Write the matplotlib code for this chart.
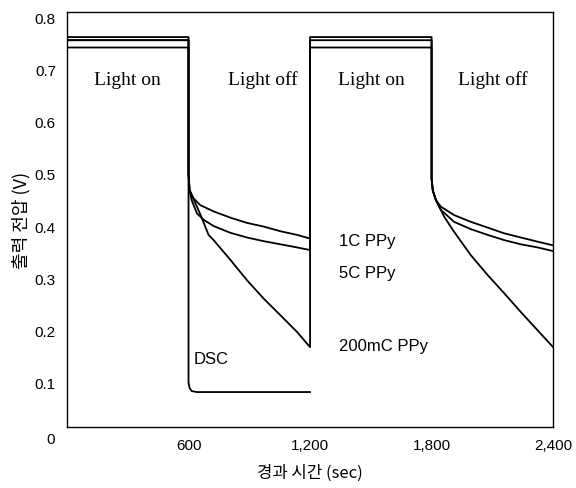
import numpy as np
import matplotlib.pyplot as plt

# Datos (tiempo en s, tensión en V)
t_1c = [0, 600, 600, 605, 625, 658, 724, 807, 889, 971, 1054, 1136, 1200,
        1200, 1800, 1800, 1806, 1821, 1846, 1911, 1994, 2077, 2159, 2241, 2324, 2400]
v_1c = [0.762, 0.762, 0.50, 0.469, 0.453, 0.440, 0.428, 0.416, 0.406, 0.399, 0.390, 0.383, 0.376,
        0.762, 0.762, 0.49, 0.468, 0.450, 0.437, 0.421, 0.408, 0.397, 0.386, 0.378, 0.370, 0.363]

t_5c = [0, 600, 600, 605, 615, 642, 675, 724, 807, 889, 971, 1054, 1136, 1200,
        1200, 1800, 1800, 1806, 1821, 1846, 1911, 1994, 2077, 2159, 2241, 2324, 2400]
v_5c = [0.756, 0.756, 0.50, 0.469, 0.450, 0.424, 0.412, 0.400, 0.387, 0.378, 0.371, 0.365, 0.359, 0.354,
        0.756, 0.756, 0.49, 0.468, 0.450, 0.431, 0.408, 0.394, 0.383, 0.373, 0.365, 0.359, 0.352]

t_200 = [0, 600, 600, 605, 620, 642, 666, 699, 724, 807, 889, 971, 1054, 1136, 1200,
         1200, 1800, 1800, 1806, 1821, 1862, 1911, 1994, 2077, 2159, 2241, 2324, 2400]
v_200 = [0.742, 0.742, 0.50, 0.469, 0.455, 0.437, 0.415, 0.383, 0.373, 0.335, 0.296, 0.261, 0.229, 0.197, 0.168,
         0.742, 0.742, 0.49, 0.468, 0.450, 0.418, 0.389, 0.344, 0.306, 0.271, 0.235, 0.200, 0.168]

t_dsc = [0, 600, 600, 605, 615, 640, 1200]
v_dsc = [0.756, 0.756, 0.10, 0.090, 0.084, 0.082, 0.082]

xticks = [600, 1200, 1800, 2400]
xlabels = ["600", "1,200", "1,800", "2,400"]
yticks = [0.1, 0.2, 0.3, 0.4, 0.5, 0.6, 0.7, 0.8]

sans = ['Liberation Sans Narrow', 'Liberation Sans', 'DejaVu Sans']
kr = ['Noto Sans CJK KR', 'DejaVu Sans']

fig = plt.figure(figsize=(5.76, 4.89), dpi=100)
ax = fig.add_axes([0.1163, 0.1247, 0.844, 0.8487])

for t, v in [(t_1c, v_1c), (t_5c, v_5c), (t_200, v_200), (t_dsc, v_dsc)]:
    ax.plot(t, v, color='black', lw=1.3)

ax.set_xlim(0, 2400)
ax.set_ylim(0.015, 0.81)
ax.set_xticks(xticks)
ax.set_xticklabels(xlabels, family=sans, fontsize=11)
ax.set_yticks(yticks)
ax.set_yticklabels([f"{y:.1f}" for y in yticks], family=sans, fontsize=11)
ax.tick_params(length=0, pad=8)
for s in ax.spines.values():
    s.set_linewidth(1.0)

# "0" en la esquina
ax.text(-0.025, -0.03, "0", transform=ax.transAxes, ha='right', va='center',
        family=sans, fontsize=11)

# Textos de periodos
for x, txt in [(297, "Light on"), (965, "Light off"), (1504, "Light on"), (2103, "Light off")]:
    ax.text(x, 0.681, txt, ha='center', va='center', family='Liberation Serif', fontsize=14)

# Etiquetas de series
ax.text(1341, 0.373, "1C PPy", family=sans, fontsize=12, va='center')
ax.text(1341, 0.311, "5C PPy", family=sans, fontsize=12, va='center')
ax.text(1341, 0.171, "200mC PPy", family=sans, fontsize=12, va='center')
ax.text(623, 0.146, "DSC", family=sans, fontsize=12, va='center')

ax.set_ylabel("출력 전압 (V)", family=kr, fontsize=13)
ax.yaxis.set_label_coords(-0.076, 0.5)
ax.set_xlabel("경과 시간 (sec)", family=kr, fontsize=12, labelpad=8)

plt.savefig("out.png", dpi=100)
